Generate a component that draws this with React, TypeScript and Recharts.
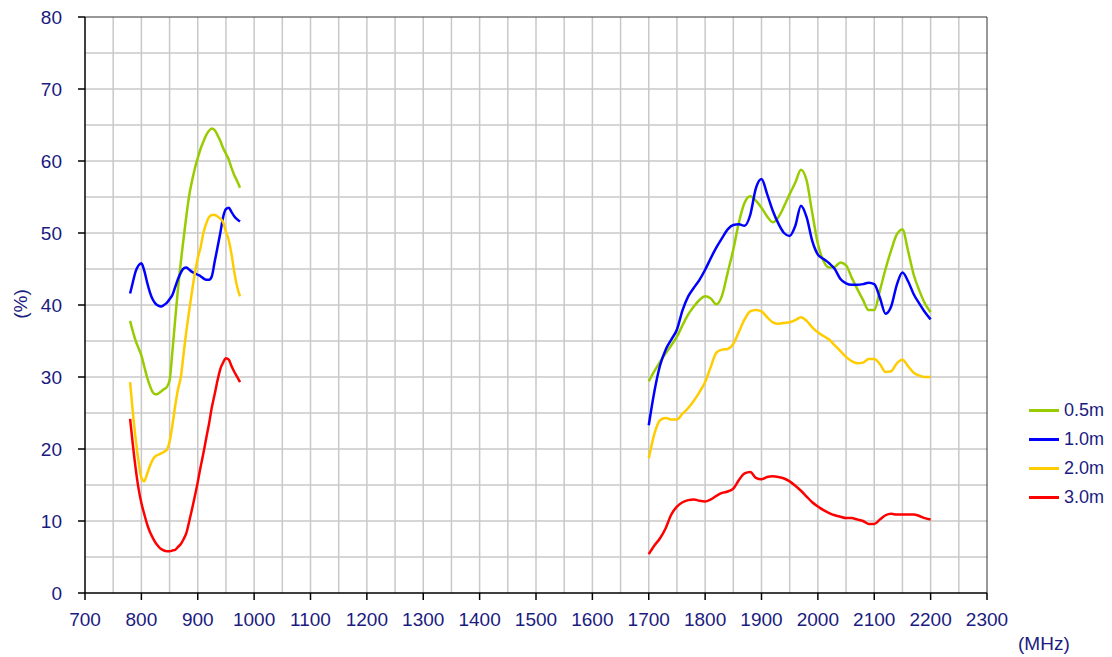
import React from 'react';
import { LineChart, Line, XAxis, YAxis, ReferenceLine } from 'recharts';

// Frequency points (MHz) of the two measured bands
const freqLow = [
  780, 785, 790, 795, 800, 805, 810, 815, 820, 825, 830, 835, 840, 845, 850, 855, 860, 865, 870, 875,
  880, 885, 890, 895, 900, 905, 910, 915, 920, 925, 930, 935, 940, 945, 950, 955, 960, 965, 970, 975,
];
const freqHigh = [
  1700, 1710, 1720, 1730, 1740, 1750, 1760, 1770, 1780, 1790, 1800, 1810, 1820, 1830, 1840, 1850, 1860,
  1870, 1880, 1890, 1900, 1910, 1920, 1930, 1940, 1950, 1960, 1970, 1980, 1990, 2000, 2010, 2020, 2030,
  2040, 2050, 2060, 2070, 2080, 2090, 2100, 2110, 2120, 2130, 2140, 2150, 2160, 2170, 2180, 2190, 2200,
];

// 0.5m
const m05Low = [
  37.8, 36.3, 35.0, 34.0, 33.0, 31.5, 30.0, 28.8, 27.9, 27.6, 27.7, 28.0, 28.3, 28.6, 29.5, 33.5, 38.0, 42.3, 46.0, 49.3,
  52.5, 55.3, 57.3, 59.0, 60.4, 61.7, 62.7, 63.6, 64.2, 64.5, 64.3, 63.6, 62.8, 61.8, 61.0, 60.2, 59.0, 58.0, 57.2, 56.3,
];
const m05High = [
  29.4, 30.8, 32.1, 33.3, 34.4, 35.6, 37.2, 38.7, 39.8, 40.7, 41.2, 40.9, 40.1, 41.3, 44.5, 47.7, 51.5,
  54.2, 55.1, 54.5, 53.5, 52.3, 51.5, 52.2, 53.7, 55.4, 57.0, 58.8, 57.3, 52.8, 48.5, 46.1, 45.2, 45.3,
  45.9, 45.5, 43.8, 42.2, 40.7, 39.3, 39.3, 42.0, 45.0, 47.6, 49.8, 50.5, 47.5, 44.2, 42.0, 40.2, 39.0,
];

// 1.0m
const m10Low = [
  41.6, 43.2, 44.7, 45.5, 45.8, 44.8, 43.2, 41.8, 40.8, 40.2, 39.9, 39.8, 40.0, 40.3, 40.8, 41.4, 42.5, 43.6, 44.5, 45.1,
  45.2, 44.9, 44.6, 44.4, 44.2, 44.0, 43.7, 43.5, 43.5, 44.0, 46.0, 48.0, 50.0, 52.2, 53.3, 53.5, 52.9, 52.3, 51.9, 51.6,
];
const m10High = [
  23.3, 28.0, 31.6, 33.8, 35.2, 36.6, 39.3, 41.2, 42.4, 43.5, 44.9, 46.5, 48.0, 49.3, 50.5, 51.1, 51.2,
  51.0, 52.5, 56.2, 57.5, 55.4, 53.1, 51.3, 50.0, 49.6, 51.0, 53.8, 52.2, 48.9, 47.0, 46.4, 45.8, 45.0,
  43.6, 43.0, 42.8, 42.8, 42.9, 43.1, 42.9, 41.0, 38.8, 39.8, 42.8, 44.5, 43.3, 41.5, 40.2, 39.0, 38.0,
];

// 2.0m
const m20Low = [
  29.3, 25.0, 21.3, 18.3, 16.0, 15.5, 16.5, 17.6, 18.5, 19.0, 19.2, 19.4, 19.6, 19.9, 21.0, 23.3, 26.0, 28.3, 30.0, 33.3,
  36.5, 39.3, 42.0, 44.5, 46.5, 48.0, 50.0, 51.3, 52.2, 52.5, 52.5, 52.3, 52.0, 51.5, 50.2, 49.0, 47.0, 44.5, 42.5, 41.2,
];
const m20High = [
  18.7, 22.1, 24.0, 24.3, 24.1, 24.1, 24.9, 25.7, 26.7, 27.9, 29.3, 31.4, 33.4, 33.8, 33.9, 34.6, 36.3,
  38.0, 39.1, 39.3, 39.1, 38.3, 37.6, 37.4, 37.5, 37.6, 37.9, 38.3, 37.8, 36.9, 36.2, 35.7, 35.2, 34.4,
  33.6, 32.8, 32.2, 31.9, 32.0, 32.5, 32.5, 31.8, 30.7, 30.8, 31.9, 32.4, 31.5, 30.6, 30.2, 30.0, 30.0,
];

// 3.0m
const m30Low = [
  24.2, 20.5, 17.2, 14.5, 12.5, 11.0, 9.6, 8.5, 7.7, 7.0, 6.5, 6.1, 5.9, 5.8, 5.8, 5.9, 6.0, 6.4, 6.8, 7.5,
  8.4, 10.0, 11.7, 13.5, 15.4, 17.5, 19.4, 21.5, 23.5, 25.8, 27.6, 29.5, 31.1, 32.0, 32.6, 32.4, 31.5, 30.7, 30.0, 29.3,
];
const m30High = [
  5.4, 6.6, 7.6, 9.0, 10.9, 12.0, 12.6, 12.9, 13.0, 12.8, 12.7, 13.0, 13.5, 13.9, 14.1, 14.5, 15.7,
  16.6, 16.8, 16.0, 15.8, 16.1, 16.2, 16.1, 15.9, 15.5, 14.9, 14.2, 13.4, 12.6, 12.0, 11.5, 11.1, 10.8,
  10.6, 10.4, 10.4, 10.2, 10.0, 9.6, 9.6, 10.2, 10.8, 11.0, 10.9, 10.9, 10.9, 10.9, 10.7, 10.4, 10.2,
];

const xTicks = [700, 800, 900, 1000, 1100, 1200, 1300, 1400, 1500, 1600, 1700, 1800, 1900, 2000, 2100, 2200, 2300];
const yTicks = [0, 10, 20, 30, 40, 50, 60, 70, 80];
const xGrid = [750, 800, 850, 900, 950, 1000, 1050, 1100, 1150, 1200, 1250, 1300, 1350, 1400, 1450, 1500, 1550,
  1600, 1650, 1700, 1750, 1800, 1850, 1900, 1950, 2000, 2050, 2100, 2150, 2200, 2250];
const yGrid = [5, 10, 15, 20, 25, 30, 35, 40, 45, 50, 55, 60, 65, 70, 75];

const series = [
  { key: 'm05', name: '0.5m', color: '#99cc00', low: m05Low, high: m05High },
  { key: 'm10', name: '1.0m', color: '#0000ff', low: m10Low, high: m10High },
  { key: 'm20', name: '2.0m', color: '#ffcc00', low: m20Low, high: m20High },
  { key: 'm30', name: '3.0m', color: '#ff0000', low: m30Low, high: m30High },
];

// one table: low band, an empty row to break the lines, high band
const rows: Record<string, number | null>[] = [];
freqLow.forEach((f, i) => {
  const r: Record<string, number | null> = { f };
  series.forEach(s => { r[s.key] = s.low[i]; });
  rows.push(r);
});
rows.push({ f: 1300, m05: null, m10: null, m20: null, m30: null });
freqHigh.forEach((f, i) => {
  const r: Record<string, number | null> = { f };
  series.forEach(s => { r[s.key] = s.high[i]; });
  rows.push(r);
});

const textColor = '#1b1b80';
const font = '"Liberation Sans", Arial, sans-serif';

export default function App() {
  return (
    <div style={{ position: 'absolute', left: 0, top: 0, width: 1112, height: 657, background: '#fff', fontFamily: font }}>
      <LineChart width={1112} height={657} data={rows} margin={{ top: 17, right: 125, left: 0, bottom: 0 }}>
        {xGrid.map(v => (
          <ReferenceLine key={'gx' + v} x={v} stroke="#c8c8c8" strokeWidth={1.5} />
        ))}
        {yGrid.map(v => (
          <ReferenceLine key={'gy' + v} y={v} stroke="#c8c8c8" strokeWidth={1.5} />
        ))}
        <ReferenceLine y={80} stroke="#333" strokeWidth={1} />
        <ReferenceLine x={2300} stroke="#333" strokeWidth={1} />
        <XAxis
          dataKey="f"
          type="number"
          domain={[700, 2300]}
          ticks={xTicks}
          interval={0}
          height={64}
          tickSize={7}
          tickMargin={13}
          stroke="#000"
          strokeWidth={1.5}
          tick={{ fontSize: 19, fill: textColor, fontFamily: font }}
        />
        <YAxis
          type="number"
          domain={[0, 80]}
          ticks={yTicks}
          interval={0}
          width={85}
          tickSize={7}
          tickMargin={16}
          stroke="#000"
          strokeWidth={1.5}
          tick={{ fontSize: 19, fill: textColor, fontFamily: font }}
        />
        {series.map(s => (
          <Line
            key={s.key}
            dataKey={s.key}
            name={s.name}
            type="monotone"
            stroke={s.color}
            strokeWidth={2.5}
            dot={false}
            connectNulls={false}
            isAnimationActive={false}
          />
        ))}
      </LineChart>

      <div style={{ position: 'absolute', left: 21, top: 304, transform: 'translate(-50%, -50%) rotate(-90deg)', fontSize: 19, color: textColor, whiteSpace: 'nowrap' }}>
        (%)
      </div>
      <div style={{ position: 'absolute', left: 1018, top: 633, fontSize: 19, color: textColor }}>(MHz)</div>

      <div style={{ position: 'absolute', left: 1029, top: 396 }}>
        {series.map(s => (
          <div key={s.key} style={{ display: 'flex', alignItems: 'center', height: 29 }}>
            <div style={{ width: 30, height: 3, background: s.color }} />
            <span style={{ marginLeft: 5, fontSize: 18, color: textColor }}>{s.name}</span>
          </div>
        ))}
      </div>
    </div>
  );
}
